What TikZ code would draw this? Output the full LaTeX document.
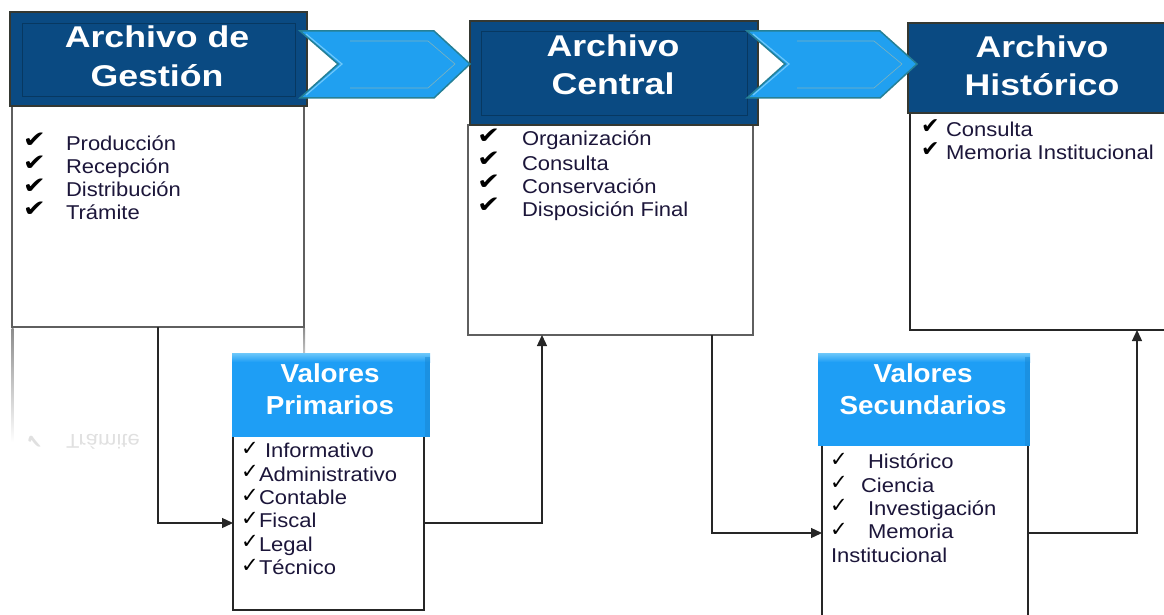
\documentclass[tikz,border=0pt]{standalone}
\usepackage{fontspec}
\setmainfont{Liberation Sans}
\newfontfamily\hdfont[FakeStretch=1.19]{Liberation Sans}
\newfontfamily\vfont[FakeStretch=1.07]{Liberation Sans}
\newfontfamily\bdfont[FakeStretch=1.10]{Liberation Sans}
\newfontfamily\ckfont{DejaVu Sans}
\newfontfamily\ckwide[FakeStretch=1.2]{DejaVu Sans}
\usetikzlibrary{arrows.meta}
\definecolor{headblue}{RGB}{10,74,130}
\definecolor{headedge}{RGB}{52,56,50}
\definecolor{chev}{RGB}{32,160,240}
\definecolor{chevedge}{RGB}{38,128,150}
\definecolor{vblue}{RGB}{30,158,245}
\definecolor{vlight}{RGB}{110,200,250}
\definecolor{txt}{RGB}{28,22,58}
\definecolor{boxgray}{RGB}{95,95,95}
\begin{document}
\begin{tikzpicture}[x=1pt,y=-1pt,
  every node/.style={inner sep=0pt, outer sep=0pt},
  hdr/.style={draw=headedge, line width=2pt, fill=headblue, anchor=north west},
  vhdr/.style={fill=vblue, anchor=north west},
  body/.style={draw=boxgray, line width=1.6pt, fill=white, anchor=north west},
  vbody/.style={draw=black!85, line width=1.3pt, fill=white, anchor=north west},
  htext/.style={text=white, font=\hdfont\bfseries\fontsize{30}{36}\selectfont, anchor=base},
  vtext/.style={text=white, font=\vfont\bfseries\fontsize{26}{30}\selectfont, anchor=base},
  item/.style={text=txt, font=\bdfont\fontsize{20}{24}\selectfont, anchor=base west},
  bigchk/.style={font=\ckwide\fontsize{23}{23}\selectfont, align=left, anchor=base west},
  midchk/.style={font=\ckfont\fontsize{22}{24}\selectfont, align=left, anchor=base west},
  smallchk/.style={font=\ckfont\fontsize{21}{23.3}\selectfont, align=left, anchor=base west},
  conn/.style={draw=black!85, line width=1.3pt, -{Triangle[length=11pt,width=10pt]}},
  chevron/.style={fill=chev, draw=chevedge, line width=1.5pt, line join=miter}
]
\useasboundingbox (0,0) rectangle (1164,615);
\clip (0,0) rectangle (1164,615);

% faint reflection
\shade[top color=black!45, bottom color=white] (11.5,328) rectangle (13.5,442);
\shade[top color=black!45, bottom color=white] (303,328) rectangle (305,380);
\node[text=black!12, font=\bdfont\fontsize{20}{24}\selectfont, yscale=-1, transform shape, anchor=base west] (ghost) at (66,434) {Trámite};
\node[text=black!12, font=\ckfont\fontsize{20}{24}\selectfont, yscale=-1, transform shape, anchor=base west] (ghostc) at (26,434) {✔};

% bodies
\node[body, minimum width=292pt, minimum height=222pt] (b1) at (12,105) {};
\node[body, minimum width=285pt, minimum height=210pt] (b2) at (468,125) {};
\node[vbody, minimum width=262pt, minimum height=217pt] (b3) at (910,113) {};
\node[vbody, minimum width=191pt, minimum height=174pt] (vpb) at (233,436) {};
\node[vbody, minimum width=206pt, minimum height=176pt] (vsb) at (822,445) {};

% main headers
\node[hdr, minimum width=297pt, minimum height=94pt] (h1) at (10,12) {};
\node[hdr, minimum width=288pt, minimum height=104pt] (h2) at (470,21) {};
\node[hdr, minimum width=272pt, minimum height=90pt] (h3) at (908,23) {};
\draw[black!25!headblue, line width=0.8pt] (22,23) rectangle (295,96);
\draw[black!25!headblue, line width=0.8pt] (481,31) rectangle (747,115);

% Valores headers
\node[vhdr, minimum width=198pt, minimum height=84pt] (vph) at (232,353) {};
\node[vhdr, minimum width=212pt, minimum height=93pt] (vsh) at (818,353) {};
\shade[top color=vlight, bottom color=vblue] (232,353) rectangle (430,362);
\shade[top color=vlight, bottom color=vblue] (818,353) rectangle (1030,362);
\fill[vblue!85!black, opacity=0.5] (425,357) rectangle (430,437);
\fill[vblue!85!black, opacity=0.5] (1025,357) rectangle (1030,446);

% chevrons
\draw[chevron] (300,31) -- (434,31) -- (470,64) -- (434,98) -- (300,98) -- (338,64) -- cycle;
\draw[chevron] (747,31) -- (880,31) -- (917,64) -- (880,98) -- (747,98) -- (785,64) -- cycle;
\draw[chevedge!60, line width=0.6pt] (350,41) -- (428,41) -- (455,64) -- (428,88) -- (350,88);
\draw[chevedge!60, line width=0.6pt] (797,41) -- (874,41) -- (902,64) -- (874,88) -- (797,88);
\draw[vlight, line width=1.2pt] (306,34) -- (342,64) -- (306,95);
\draw[vlight, line width=1.2pt] (753,34) -- (789,64) -- (753,95);

% header texts
\node[htext] (t1a) at (157,48) {Archivo de};
\node[htext] (t1b) at (157,87) {Gestión};
\node[htext] (t2a) at (613,57) {Archivo};
\node[htext] (t2b) at (613,95) {Central};
\node[htext] (t3a) at (1042,58) {Archivo};
\node[htext] (t3b) at (1042,96) {Histórico};
\node[vtext] (v1a) at (330,382) {Valores};
\node[vtext] (v1b) at (330,414) {Primarios};
\node[vtext] (v2a) at (923,382) {Valores};
\node[vtext] (v2b) at (923,414) {Secundarios};

% box 1 items (check column anchored at its last line)
\node[bigchk] (c1) at (23,216) {✔\\✔\\✔\\✔};
\node[item] (i11) at (66,150) {Producción};
\node[item] (i12) at (66,173) {Recepción};
\node[item] (i13) at (66,196) {Distribución};
\node[item] (i14) at (66,219) {Trámite};

% box 2 items
\node[bigchk] (c2) at (477,212) {✔\\✔\\✔\\✔};
\node[item] (i21) at (522,146) {Organización};
\node[item] (i22) at (522,170) {Consulta};
\node[item] (i23) at (522,193) {Conservación};
\node[item] (i24) at (522,216) {Disposición Final};

% box 3 items
\node[midchk] (c3) at (921,157) {✔\\✔};
\node[item] (i31) at (946,136) {Consulta};
\node[item] (i32) at (946,160) {Memoria Institucional};

% valores primarios items
\node[smallchk] (c4) at (241,572) {✓\\✓\\✓\\✓\\✓\\✓};
\node[item] (i41) at (265,457) {Informativo};
\node[item] (i42) at (259,481) {Administrativo};
\node[item] (i43) at (259,504) {Contable};
\node[item] (i44) at (259,527) {Fiscal};
\node[item] (i45) at (259,551) {Legal};
\node[item] (i46) at (259,574) {Técnico};

% valores secundarios items
\node[smallchk] (c5) at (830,536) {✓\\✓\\✓\\✓};
\node[item] (i51) at (868,468) {Histórico};
\node[item] (i52) at (861,492) {Ciencia};
\node[item] (i53) at (868,515) {Investigación};
\node[item] (i54) at (868,538) {Memoria};
\node[item] (i55) at (831,562) {Institucional};

% connectors
\draw[conn] (b1.south) |- (vpb.west);
\draw[conn] (vpb.east) -| ([xshift=74pt]b2.south west);
\draw[conn] ([xshift=244pt]b2.south west) |- (vsb.west);
\draw[conn] (vsb.east) -| ([xshift=227pt]b3.south west);
\end{tikzpicture}
\end{document}
